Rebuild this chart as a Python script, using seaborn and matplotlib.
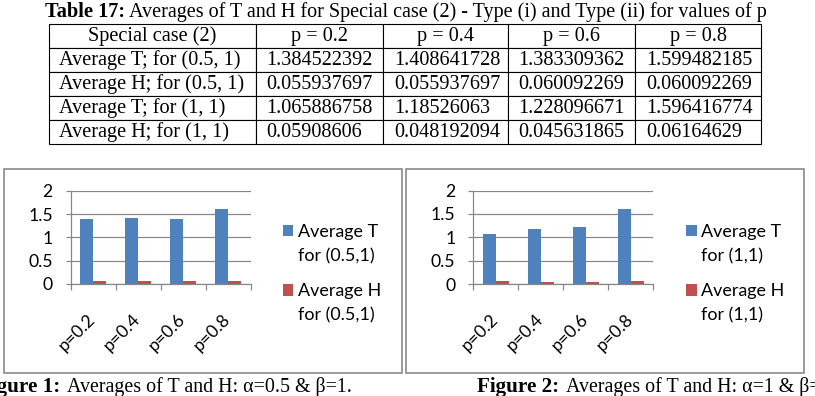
import numpy as np
import pandas as pd
import matplotlib
matplotlib.use("Agg")
import matplotlib.pyplot as plt
import seaborn as sns
from matplotlib.patches import Rectangle
from matplotlib.font_manager import FontProperties

# ---------------- data ----------------
p_values = ["p=0.2", "p=0.4", "p=0.6", "p=0.8"]
p_headers = ["p = 0.2", "p = 0.4", "p = 0.6", "p = 0.8"]
avg_T_05_1 = [1.384522392, 1.408641728, 1.383309362, 1.599482185]
avg_H_05_1 = [0.055937697, 0.055937697, 0.060092269, 0.060092269]
avg_T_1_1 = [1.065886758, 1.18526063, 1.228096671, 1.596416774]
avg_H_1_1 = [0.05908606, 0.048192094, 0.045631865, 0.06164629]
table_corner = "Special case (2)"
table_row_labels = ["Average T; for (0.5, 1)", "Average H; for (0.5, 1)",
                    "Average T; for (1, 1)", "Average H; for (1, 1)"]
series_labels_1 = ["Average T\nfor (0.5,1)", "Average H\nfor (0.5,1)"]
series_labels_2 = ["Average T\nfor (1,1)", "Average H\nfor (1,1)"]
y_ticks = [0, 0.5, 1, 1.5, 2]
y_tick_labels = ["0", "0.5", "1", "1.5", "2"]
title_bold = "Table 17:"
title_rest = "Averages of T and H for Special case (2) - Type (i) and Type (ii) for values of p"
cap1_bold, cap1_rest = "Figure 1:", "Averages of T and H: \u03b1=0.5 & \u03b2=1."
cap2_bold, cap2_rest = "Figure 2:", "Averages of T and H: \u03b1=1 & \u03b2=1."

# ---------------- setup ----------------
W, H = 815, 396
DPI = 100
fig = plt.figure(figsize=(W / DPI, H / DPI), dpi=DPI)
fig.patch.set_facecolor("white")
renderer = fig.canvas.get_renderer()

SERIF = ["Liberation Serif", "DejaVu Serif"]
SANS = ["Lato", "DejaVu Sans"]
BLUE, RED = "#4F81BD", "#C0504D"
GRID = "#868686"
BOXC = "#8a8a8a"


def fx(x):
    return x / W


def fy(y):
    return 1 - y / H


def pt(px):
    return px * 72 / DPI


def fit(text, target, family, weight="normal", ref=12.0):
    t = fig.text(0, 0, text, fontsize=ref, family=family, weight=weight)
    w = t.get_window_extent(renderer).width
    t.remove()
    return ref * target / w


fs_title = fit(title_rest, 638, SERIF)
fs_title_b = fit(title_bold, 80, SERIF, weight="bold")
fs_tab = fit(table_row_labels[0], 182, SERIF)
fs_cap = fit(cap1_rest, 285, SERIF)
fs_cap_b = fit(cap2_bold, 82, SERIF, weight="bold")
fs_tick = fit("0.5", 24.5, SANS)
fs_leg = fit("Average T", 80, SANS)

# ---------------- title ----------------
fig.text(fx(45), fy(17.3), title_bold, fontsize=fs_title_b, family=SERIF,
         weight="bold", va="baseline", ha="left")
fig.text(fx(129.3), fy(17.3), title_rest, fontsize=fs_title, family=SERIF,
         va="baseline", ha="left")

# ---------------- table ----------------
col_edges = np.array([49.3, 255.5, 383.0, 507.5, 635.0, 761.0])
widths = np.diff(col_edges)
tax = fig.add_axes([fx(col_edges[0]), fy(144), (col_edges[-1] - col_edges[0]) / W,
                    (144 - 24.3) / H])
tax.axis("off")
rows_vals = [avg_T_05_1, avg_H_05_1, avg_T_1_1, avg_H_1_1]
cell_text = [[table_corner] + p_headers] + [
    [lab] + [str(v) for v in vals] for lab, vals in zip(table_row_labels, rows_vals)]
tbl = tax.table(cellText=cell_text, colWidths=list(widths / widths.sum()),
                bbox=[0, 0, 1, 1], cellLoc="left")
tbl.auto_set_font_size(False)
tbl.set_fontsize(fs_tab)
for (r, c), cell in tbl.get_celld().items():
    cell.set_edgecolor("black")
    cell.set_linewidth(0.8)
    txt = cell.get_text()
    txt.set_fontfamily(SERIF)
    if r == 0:
        cell._loc = "center"
        txt.set_horizontalalignment("center")
    else:
        cell.PAD = (10.0 if c == 0 else 11.0) / widths[c]

# ---------------- boxes around charts ----------------
for x0, x1 in [(4, 401.5), (406, 804)]:
    fig.add_artist(Rectangle((fx(x0), fy(373)), (x1 - x0) / W, (373 - 169) / H,
                             transform=fig.transFigure, fill=False,
                             edgecolor=BOXC, linewidth=1.2))


# ---------------- charts ----------------
def chart(rect, T, Hh, labels, sq_left, sq_top):
    ax = fig.add_axes(rect)
    df = pd.DataFrame({
        "p": p_values * 2,
        "value": list(T) + list(Hh),
        "series": [labels[0]] * len(T) + [labels[1]] * len(Hh),
    })
    sns.barplot(data=df, x="p", y="value", hue="series", hue_order=labels,
                order=p_values, palette=[BLUE, RED], saturation=1, width=0.58,
                errorbar=None, linewidth=0, ax=ax)
    ax.set_xlabel("")
    ax.set_ylabel("")
    ax.set_xlim(-0.5, 3.5)
    ax.set_ylim(0, 2)
    ax.set_yticks(y_ticks)
    ax.set_yticklabels(y_tick_labels, fontsize=fs_tick, family=SANS)
    ax.set_xticks([-0.5, 0.5, 1.5, 2.5, 3.5])
    ax.set_xticklabels([])
    ax.set_xticks(range(len(p_values)), minor=True)
    ax.set_xticklabels(p_values, minor=True, rotation=45, ha="right", va="center",
                       rotation_mode="anchor", fontsize=fs_tick, family=SANS)
    ax.tick_params(axis="x", which="minor", length=0, pad=pt(33))
    ax.tick_params(axis="x", which="major", length=pt(6), width=pt(1.2), color=GRID)
    ax.tick_params(axis="y", length=pt(5), width=pt(1.2), color=GRID, pad=pt(13))
    for s in ["top", "right"]:
        ax.spines[s].set_visible(False)
    for s in ["left", "bottom"]:
        ax.spines[s].set_color(GRID)
        ax.spines[s].set_linewidth(pt(1.2))
    ax.yaxis.grid(True, color=GRID, linewidth=pt(1.2))
    ax.xaxis.grid(False)
    ax.set_axisbelow(True)
    ax.set_facecolor("white")

    # legend
    old = ax.get_legend()
    handles = list(old.legend_handles)
    old.remove()
    first = [l.split("\n")[0] for l in labels]
    second = [l.split("\n")[1] for l in labels]
    fs_px = fs_leg * DPI / 72
    hl = 10.7 / fs_px
    ls = 1.8
    anchor = [sq_left, sq_top]
    leg = None
    for i in range(4):
        if leg is not None:
            leg.remove()
        leg = ax.legend(handles, first, loc="upper left",
                        bbox_to_anchor=(fx(anchor[0]), fy(anchor[1])),
                        bbox_transform=fig.transFigure, frameon=False,
                        borderpad=0, borderaxespad=0, handlelength=hl,
                        handleheight=hl, handletextpad=4.5 / fs_px,
                        labelspacing=ls,
                        prop=FontProperties(family=SANS, size=fs_leg))
        fig.canvas.draw()
        t0, t1 = leg.get_texts()
        b0 = t0.get_transform().transform(t0.get_position())
        b1 = t1.get_transform().transform(t1.get_position())
        delta = b0[1] - b1[1]
        hb = leg.legend_handles[0].get_window_extent(renderer)
        anchor[0] += sq_left - hb.x0
        anchor[1] += sq_top - (H - hb.y1)
        ls += (59.3 - delta) / fs_px
    for t, s in zip(leg.get_texts(), second):
        x, y = t.get_transform().transform(t.get_position())
        fig.text(x / W, (y - 24.5) / H, s, fontsize=fs_leg, family=SANS,
                 va="baseline", ha="left")
    return ax


chart([fx(70.7), fy(284.0), 180 / W, (284.0 - 190.7) / H],
      avg_T_05_1, avg_H_05_1, series_labels_1, 282.7, 225)
chart([fx(473.3), fy(284.2), 180 / W, (284.2 - 190.5) / H],
      avg_T_1_1, avg_H_1_1, series_labels_2, 686.0, 225)

# ---------------- captions ----------------
fig.text(fx(60.5), fy(391.7), cap1_bold, fontsize=fs_cap_b, family=SERIF,
         weight="bold", va="baseline", ha="right")
fig.text(fx(66.7), fy(391.7), cap1_rest, fontsize=fs_cap, family=SERIF,
         va="baseline", ha="left")
fig.text(fx(477.3), fy(391.7), cap2_bold, fontsize=fs_cap_b, family=SERIF,
         weight="bold", va="baseline", ha="left")
fig.text(fx(565.7), fy(391.7), cap2_rest, fontsize=fs_cap, family=SERIF,
         va="baseline", ha="left")

fig.savefig("out.png", dpi=DPI)
